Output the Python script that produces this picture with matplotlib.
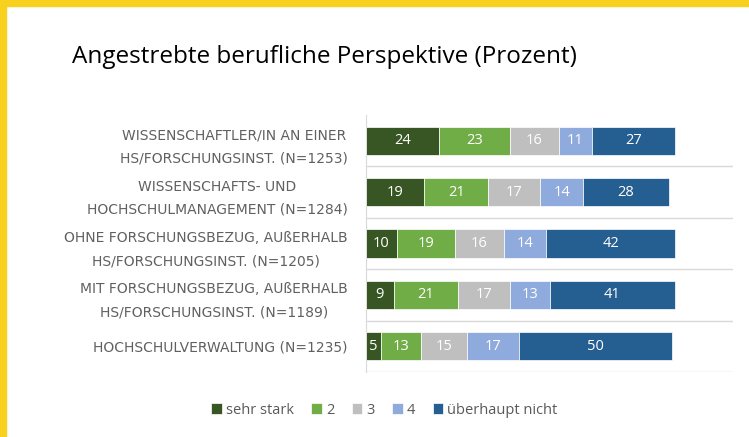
import numpy as np
import matplotlib
matplotlib.use("Agg")
import matplotlib.pyplot as plt
from matplotlib.patches import Rectangle

# data
categories = [
    "WISSENSCHAFTLER/IN AN EINER\nHS/FORSCHUNGSINST. (N=1253)",
    "WISSENSCHAFTS- UND\nHOCHSCHULMANAGEMENT (N=1284)",
    "OHNE FORSCHUNGSBEZUG, AUßERHALB\nHS/FORSCHUNGSINST. (N=1205)",
    "MIT FORSCHUNGSBEZUG, AUßERHALB\nHS/FORSCHUNGSINST. (N=1189)",
    "HOCHSCHULVERWALTUNG (N=1235)",
]
series_names = ["sehr stark", "2", "3", "4", "überhaupt nicht"]
sehr_stark = [24, 19, 10, 9, 5]
stufe_2 = [23, 21, 19, 21, 13]
stufe_3 = [16, 17, 16, 17, 15]
stufe_4 = [11, 14, 14, 13, 17]
ueberhaupt_nicht = [27, 28, 42, 41, 50]

colors = ["#375623", "#70AD47", "#BFBFBF", "#8FAADC", "#255E91"]
title = "Angestrebte berufliche Perspektive (Prozent)"

W, H = 749, 437
fig = plt.figure(figsize=(W / 100, H / 100), dpi=100)
fig.patch.set_facecolor("white")

# yellow frame on left and top
fig.patches.append(Rectangle((0, 0), 6 / W, 1, transform=fig.transFigure,
                             color="#F8D01E", zorder=0))
fig.patches.append(Rectangle((0, 1 - 6 / H), 1, 6 / H, transform=fig.transFigure,
                             color="#F8D01E", zorder=0))

fig.text(72 / W, 1 - 63 / H, title, fontsize=17.5, family="Open Sans",
         color="black", va="baseline", ha="left")

ax = fig.add_axes([366 / W, 65 / H, 367 / W, 257 / H])

y = np.arange(len(categories))
left = np.zeros(len(categories))
for name, vals, c in zip(series_names,
                         [sehr_stark, stufe_2, stufe_3, stufe_4, ueberhaupt_nicht],
                         colors):
    bars = ax.barh(y, vals, left=left, height=0.55, color=c, label=name,
                   edgecolor="white", linewidth=0.5, zorder=3)
    ax.bar_label(bars, label_type="center", color="white", fontsize=10.5,
                 family="Open Sans")
    left += np.array(vals)

ax.set_xlim(0, 120)
ax.set_ylim(len(categories) - 0.5, -0.5)
for b in np.arange(0.5, len(categories), 1.0):
    ax.axhline(b, color="#D9D9D9", lw=1, zorder=1)

for s in ["top", "right", "bottom"]:
    ax.spines[s].set_visible(False)
ax.spines["left"].set_color("#D9D9D9")
ax.set_xticks([])
ax.set_yticks(y)
ax.set_yticklabels(categories, fontsize=10, color="#606060",
                   multialignment="center", linespacing=1.85)
ax.tick_params(axis="y", length=0, pad=13)

ax.legend(loc="center", bbox_to_anchor=(0.5 * (212 + 557) / W, 1 - 410 / H),
          bbox_transform=fig.transFigure, ncol=5, frameon=False,
          handlelength=0.7, handleheight=0.7, handletextpad=0.3,
          columnspacing=1.2, prop={"family": "Open Sans", "size": 10.5},
          labelcolor="#595959")

fig.savefig("out.png", dpi=100)
